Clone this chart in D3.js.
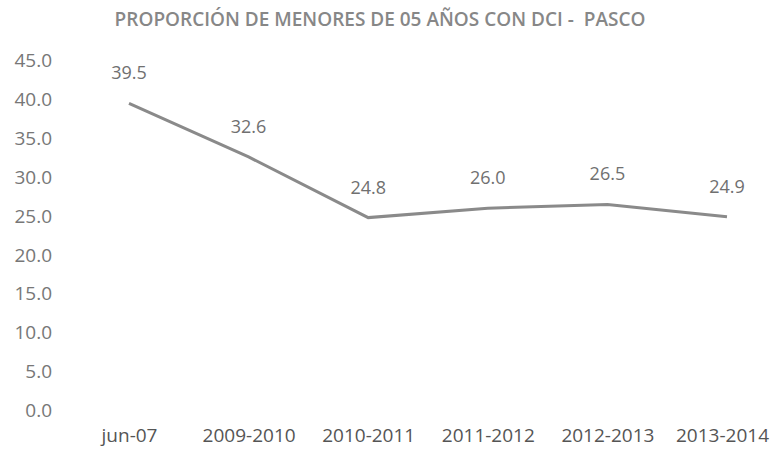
<html>
<head>
    <meta charset="utf-8">
    <script src="https://d3js.org/d3.v7.min.js"></script>
    <style>
        body {
            margin: 0;
            background: #fff;
            font-family: "Open Sans", Arial, sans-serif;
        }
    </style>
</head>
<body>
    <svg width="771" height="450"></svg>
    <script>
        const title = "PROPORCIÓN DE MENORES DE 05 AÑOS CON DCI -  PASCO";
        const periods = ["jun-07", "2009-2010", "2010-2011", "2011-2012", "2012-2013", "2013-2014"];
        const values = [39.5, 32.6, 24.8, 26.0, 26.5, 24.9];
        const yTicks = [0, 5, 10, 15, 20, 25, 30, 35, 40, 45];

        const svg = d3.select("svg");

        const x = d3.scalePoint()
            .domain(periods)
            .range([129, 727]);

        const y = d3.scaleLinear()
            .domain([0, 45])
            .range([410.5, 60.5]);

        svg.append("text")
            .attr("x", 380)
            .attr("y", 26)
            .attr("text-anchor", "middle")
            .style("white-space", "pre")
            .style("font-size", "19px")
            .style("font-weight", "600")
            .style("fill", "#878787")
            .text(title);

        // y axis: labels only, no line, no ticks
        const leftAxis = d3.axisLeft(y)
            .tickValues(yTicks)
            .tickFormat(d3.format(".1f"))
            .tickSize(0)
            .tickPadding(0);

        const gy = svg.append("g")
            .attr("transform", "translate(52,0)")
            .call(leftAxis);
        gy.select(".domain").remove();
        gy.selectAll("text")
            .style("font-family", "'Open Sans', Arial, sans-serif")
            .style("font-size", "19px")
            .style("fill", "#777777");

        // x axis: labels only
        const bottomAxis = d3.axisBottom(x)
            .tickSize(0)
            .tickPadding(0);

        const gx = svg.append("g")
            .attr("transform", "translate(0,428)")
            .call(bottomAxis);
        gx.select(".domain").remove();
        gx.selectAll("text")
            .style("font-family", "'Open Sans', Arial, sans-serif")
            .style("font-size", "19px")
            .style("fill", "#555555");
        // last label sits a bit left so it stays inside the page
        gx.selectAll("text")
            .filter(d => d === periods[periods.length - 1])
            .attr("dx", -5);

        const data = periods.map((p, i) => ({ period: p, value: values[i] }));

        const line = d3.line()
            .x(d => x(d.period))
            .y(d => y(d.value));

        svg.append("path")
            .datum(data)
            .attr("d", line)
            .attr("fill", "none")
            .attr("stroke", "#8a8a8a")
            .attr("stroke-width", 3);

        // value labels above each point
        svg.append("g")
            .selectAll("text")
            .data(data)
            .join("text")
            .attr("x", d => x(d.period))
            .attr("y", d => y(d.value) - 24)
            .attr("text-anchor", "middle")
            .style("font-size", "18px")
            .style("fill", "#707070")
            .text(d => d3.format(".1f")(d.value));
    </script>
</body>
</html>
